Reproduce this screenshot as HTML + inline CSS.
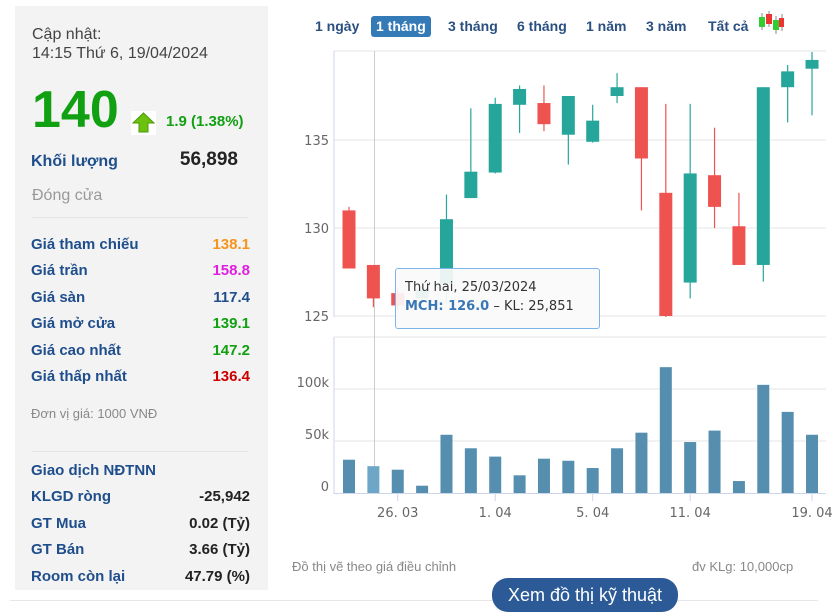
<!DOCTYPE html>
<html><head><meta charset="utf-8"><style>
body{margin:0;width:837px;height:615px;background:#fff;font-family:"Liberation Sans",sans-serif;position:relative;overflow:hidden}
.p{position:absolute}
#left{left:15px;top:6px;width:253px;height:584px;background:#f3f3f3}
.row{position:absolute;left:16px;width:219px;font-size:15px;font-weight:bold;color:#1f4e8c}
.row span{position:absolute;right:0;top:0}
.btn{position:absolute;top:16px;height:21px;line-height:21px;font-size:14px;font-weight:bold;color:#2a4f80;padding:0 5px;border-radius:3px}
</style></head><body>
<div id="left" class="p">
 <div class="p" style="left:17px;top:19px;font-size:16px;color:#444;line-height:19px">Cập nhật:<br>14:15 Thứ 6, 19/04/2024</div>
 <div class="p" style="left:17px;top:78px;font-size:52px;font-weight:bold;color:#11a011;line-height:52px">140</div>
 <div class="p" style="left:116px;top:105px;width:25px;height:24px;background:#fff"><svg width="25" height="24"><polygon points="12.5,2 23,12 17,12 17,21 8,21 8,12 2,12" fill="#6cc10e" stroke="#4a9a08"/></svg></div>
 <div class="p" style="left:151px;top:107px;font-size:15px;font-weight:bold;color:#11a011">1.9 (1.38%)</div>
 <div class="row" style="top:147px;font-size:16px">Khối lượng<span style="right:12px;top:-4px;font-size:19px;color:#222">56,898</span></div>
 <div class="p" style="left:17px;top:181px;font-size:16px;color:#999">Đóng cửa</div>
 <div class="p" style="left:17px;top:211px;width:216px;border-top:1px solid #e4e4e4"></div>
 <div class="row" style="top:230px">Giá tham chiếu<span style="color:#f7941d">138.1</span></div>
 <div class="row" style="top:256px">Giá trần<span style="color:#e020e0">158.8</span></div>
 <div class="row" style="top:283px">Giá sàn<span style="color:#1f4e8c">117.4</span></div>
 <div class="row" style="top:309px">Giá mở cửa<span style="color:#11a011">139.1</span></div>
 <div class="row" style="top:336px">Giá cao nhất<span style="color:#11a011">147.2</span></div>
 <div class="row" style="top:362px">Giá thấp nhất<span style="color:#cc0000">136.4</span></div>
 <div class="p" style="left:16px;top:400px;font-size:13px;color:#888">Đơn vị giá: 1000 VNĐ</div>
 <div class="p" style="left:17px;top:445px;width:216px;border-top:1px solid #e4e4e4"></div>
 <div class="row" style="top:456px">Giao dịch NĐTNN</div>
 <div class="row" style="top:482px">KLGD ròng<span style="color:#222">-25,942</span></div>
 <div class="row" style="top:509px">GT Mua<span style="color:#222">0.02 (Tỷ)</span></div>
 <div class="row" style="top:535px">GT Bán<span style="color:#222">3.66 (Tỷ)</span></div>
 <div class="row" style="top:562px">Room còn lại<span style="color:#222">47.79 (%)</span></div>
</div>
<div class="btn" style="left:310px">1 ngày</div>
<div class="btn" style="left:371px;background:#337ab7;color:#fff">1 tháng</div>
<div class="btn" style="left:443px">3 tháng</div>
<div class="btn" style="left:512px">6 tháng</div>
<div class="btn" style="left:581px">1 năm</div>
<div class="btn" style="left:641px">3 năm</div>
<div class="btn" style="left:703px">Tất cả</div>
<svg class="p" style="left:757px;top:10px" width="28" height="28">
<line x1="5" y1="3" x2="5" y2="20" stroke="#888"/><rect x="2" y="7" width="6" height="10" fill="#3c3"/>
<line x1="12" y1="1" x2="12" y2="17" stroke="#888"/><rect x="9" y="4" width="6" height="10" fill="#e33"/>
<line x1="19" y1="6" x2="19" y2="24" stroke="#888"/><rect x="16" y="10" width="6" height="10" fill="#3c3"/>
<line x1="25" y1="4" x2="25" y2="21" stroke="#888"/><rect x="22" y="8" width="5" height="9" fill="#e33"/>
</svg>
<svg id="chart" class="p" style="left:0;top:0" width="837" height="615"></svg>
<div class="p" style="left:395px;top:268px;width:203px;height:59px;background:rgba(250,250,250,0.92);border:1px solid #7cb5ec;border-radius:3px;font-family:'DejaVu Sans',sans-serif;font-size:13px;color:#333">
 <div class="p" style="left:9px;top:11px">Thứ hai, 25/03/2024</div>
 <div class="p" style="left:9px;top:30px"><b style="color:#3a78b5">MCH: 126.0</b> – KL: 25,851</div>
</div>
<div class="p" style="left:292px;top:559px;font-size:13px;color:#888">Đồ thị vẽ theo giá điều chỉnh</div>
<div class="p" style="left:692px;top:559px;font-size:13px;color:#888">đv KLg: 10,000cp</div>
<div class="p" style="left:10px;top:600px;width:808px;border-top:1px solid #e6e6e6"></div>
<div class="p" style="left:492px;top:578px;width:186px;height:34px;line-height:34px;text-align:center;background:#2b5a97;color:#fff;font-size:18px;border-radius:16px">Xem đồ thị kỹ thuật</div>
<script>
const opens=[131.0,127.9,126.3,126.0,126.8,131.7,133.15,137.0,137.1,135.3,134.9,137.5,138.0,132.0,126.9,133.0,130.1,127.9,138.0,139.05];
const highs=[131.2,127.9,126.5,126.8,131.9,136.8,137.4,138.1,138.1,137.5,137.0,138.8,138.0,137.05,137.05,135.7,132.0,138.0,139.26,140.0];
const lows=[127.7,125.5,125.3,125.8,125.7,131.7,133.1,135.4,135.5,133.6,134.85,137.1,131.0,124.9,126.0,130.0,127.9,126.95,136.0,136.4];
const closes=[127.7,126.0,125.6,126.5,130.5,133.2,137.05,137.9,135.9,137.5,136.1,138.0,133.95,125.0,133.1,131.2,127.9,138.0,138.9,139.55];
const volumes=[32,25.8,22.4,7,56,43,35,17,33,31,24,43,58,121,49,60,11.5,104,78,56];
const priceTicks=[125,130,135];
const volTicks=[0,50,100];
const volTickLabels=["0","50k","100k"];
const dateTicks=[2,6,10,14,19];
const dateLabels=["26. 03","1. 04","5. 04","11. 04","19. 04"];
const NS="http://www.w3.org/2000/svg",svg=document.getElementById('chart');
const X0=334,X1=826;
const xs=i=>349+i*24.37;
const yp=p=>316-(p-125)*17.6;
const yv=v=>493-v*1.04;
function el(t,a){const e=document.createElementNS(NS,t);for(const k in a)e.setAttribute(k,a[k]);svg.appendChild(e);return e;}
for(const t of priceTicks){const g=el('line',{x1:X0,x2:X1,y1:yp(t),y2:yp(t),stroke:'#e6e6e6'});


const l=el('text',{x:329,y:yp(t)+5,'text-anchor':'end','font-size':13,fill:'#666','font-family':'DejaVu Sans,sans-serif'});l.textContent=t;

}
el('line',{x1:X0,x2:X1,y1:51,y2:51,stroke:'#e6e6e6'});
el('line',{x1:X0,x2:X0,y1:51,y2:317,stroke:'#ccd6eb'});
el('line',{x1:X0,x2:X1,y1:337,y2:337,stroke:'#e6e6e6'});
el('line',{x1:X0,x2:X0,y1:337,y2:494,stroke:'#ccd6eb'});
for(let i=0;i<volTicks.length;i++){const y=yv(volTicks[i]);
if(i>0){const g=el('line',{x1:X0,x2:X1,y1:y,y2:y,stroke:'#e6e6e6'});

}
const l=el('text',{x:329,y:y-2,'text-anchor':'end','font-size':13,fill:'#666','font-family':'DejaVu Sans,sans-serif'});l.textContent=volTickLabels[i];

}
el('line',{x1:X0,x2:X1,y1:493.5,y2:493.5,stroke:'#ccd6eb'});
for(let k=0;k<dateTicks.length;k++){const x=xs(dateTicks[k]);
el('line',{x1:x,x2:x,y1:494,y2:501,stroke:'#ccd6eb'});
const l=el('text',{x:x,y:517,'text-anchor':'middle','font-size':13,fill:'#666','font-family':'DejaVu Sans,sans-serif'});l.textContent=dateLabels[k];

}
el('line',{x1:374.5,x2:374.5,y1:51,y2:493,stroke:'#ccc'});
for(let i=0;i<opens.length;i++){const up=closes[i]>=opens[i],c=up?'#26a69a':'#ef5350',x=xs(i);
const w=el('line',{x1:x,x2:x,y1:yp(highs[i]),y2:Math.min(yp(lows[i]),317),stroke:c,'stroke-width':1.2});


const top=yp(Math.max(opens[i],closes[i])),bot=yp(Math.min(opens[i],closes[i]));
const r=el('rect',{x:x-6.5,y:top,width:13,height:Math.max(bot-top,1),fill:c});

}
for(let i=0;i<volumes.length;i++){const y=yv(volumes[i]);
const r=el('rect',{x:xs(i)-6,y:y,width:12,height:493-y,fill:i==1?'#6ea6c8':'#558eaf'});

}
</script>
</body></html>
